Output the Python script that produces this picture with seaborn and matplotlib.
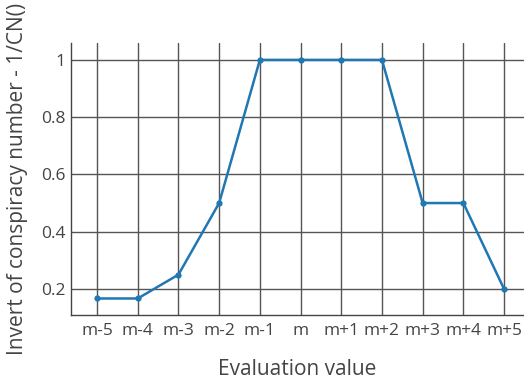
import matplotlib
matplotlib.use("Agg")
import matplotlib.pyplot as plt
import seaborn as sns
import pandas as pd

categories = ["m-5", "m-4", "m-3", "m-2", "m-1", "m", "m+1", "m+2", "m+3", "m+4", "m+5"]
inv_cn = [1/6, 1/6, 0.25, 0.5, 1, 1, 1, 1, 0.5, 0.5, 0.2]
y_ticks = [0.2, 0.4, 0.6, 0.8, 1]
y_tick_labels = ["0.2", "0.4", "0.6", "0.8", "1"]

sns.set_style("white")
plt.rcParams["font.family"] = ["Open Sans", "DejaVu Sans"]

df = pd.DataFrame({"idx": range(len(categories)), "val": inv_cn})

fig = plt.figure(figsize=(5.24, 3.83), dpi=100)
ax = fig.add_axes([71/524, 1 - 315/383, (524 - 71)/524, (315 - 43)/383])

sns.lineplot(data=df, x="idx", y="val", ax=ax, color="#1f77b4", linewidth=1.8,
             marker="o", markersize=4.5, markeredgewidth=0, zorder=3)

ax.set_xlim(-0.64, 10.49)
ax.set_ylim(0.109, 1.059)
ax.set_xticks(range(len(categories)))
ax.set_xticklabels(categories)
ax.set_yticks(y_ticks)
ax.set_yticklabels(y_tick_labels)
ax.grid(True, color="#555555", linewidth=1)
ax.set_axisbelow(True)
for s in ["top", "right"]:
    ax.spines[s].set_visible(False)
for s in ["left", "bottom"]:
    ax.spines[s].set_color("#444444")
    ax.spines[s].set_linewidth(1)
ax.tick_params(axis="both", length=0, labelsize=12.5, labelcolor="#444444")
ax.tick_params(axis="x", pad=6)
ax.tick_params(axis="y", pad=4)
ax.set_xlabel("Evaluation value", fontsize=15, color="#444444")
ax.set_ylabel("Invert of conspiracy number - 1/CN()", fontsize=15, color="#444444")
ax.xaxis.set_label_coords(0.5, -0.202)
ax.yaxis.set_label_coords(-0.117, 0.5)
ax.xaxis.label.set_verticalalignment("center")
ax.yaxis.label.set_verticalalignment("center")

fig.savefig("out.png", dpi=100)
